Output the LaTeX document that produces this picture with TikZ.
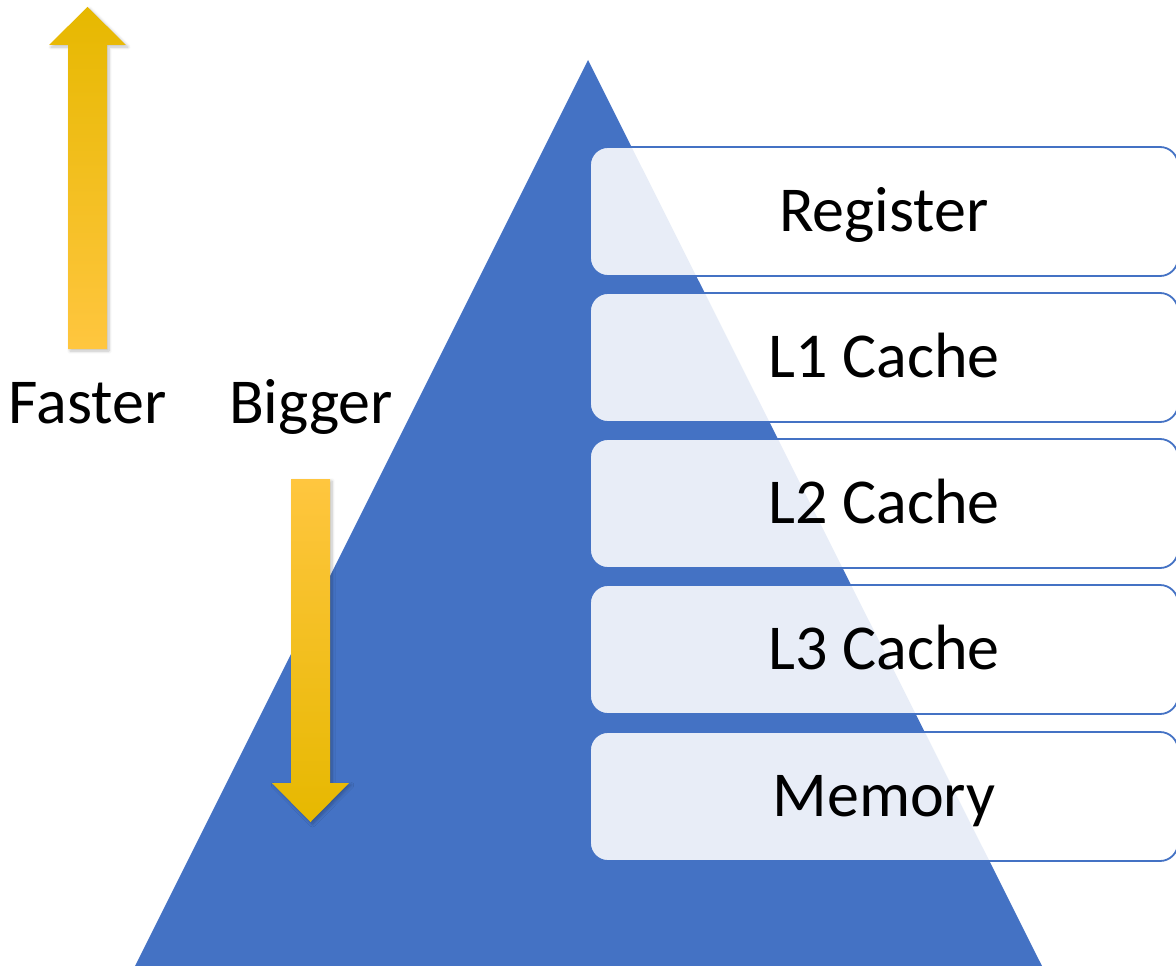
\documentclass[tikz,border=0pt]{standalone}
\usepackage{fontspec}
\setmainfont{Carlito}
\usetikzlibrary{shadows.blur}
\definecolor{pyrblue}{HTML}{4472C4}
\definecolor{golddark}{HTML}{E6B800}
\definecolor{goldmid}{HTML}{FFC800}
\definecolor{goldlight}{HTML}{FFC63F}
\begin{document}
\begin{tikzpicture}[x=1pt,y=-1pt,
  level/.style={draw=pyrblue, line width=1.8pt, fill=white, fill opacity=0.88,
    rounded corners=18pt, rectangle, inner sep=0pt, outer sep=0pt, anchor=north west,
    minimum width=588pt, minimum height=129pt},
  leveltext/.style={anchor=base, inner sep=0pt, font=\fontsize{64}{76}\selectfont},
  arrowshadow/.style={blur shadow={shadow xshift=2pt, shadow yshift=-2pt,
    shadow blur steps=6, shadow opacity=25, shadow blur radius=3pt}}
]
\useasboundingbox (0,0) rectangle (1176,966);
\clip (0,0) rectangle (1176,966);

% pyramid
\fill[pyrblue] (588,60) -- (1042,966) -- (135,966) -- cycle;

% memory levels
\node[level] (reg) at (590,147) {};
\node[level] (l1)  at (590,293) {};
\node[level] (l2)  at (590,439) {};
\node[level] (l3)  at (590,585) {};
\node[level] (mem) at (590,732) {};

\node[leveltext] (treg) at ([yshift=-20pt]reg.center) {Register};
\node[leveltext] (tl1)  at ([yshift=-20pt]l1.center) {L1 Cache};
\node[leveltext] (tl2)  at ([yshift=-20pt]l2.center) {L2 Cache};
\node[leveltext] (tl3)  at ([yshift=-20pt]l3.center) {L3 Cache};
\node[leveltext] (tmem) at ([yshift=-20pt]mem.center) {Memory};

% speed / size arrows
\path[arrowshadow, top color=golddark, middle color=goldmid, bottom color=goldlight]
  (87.5,7) -- (126,45) -- (107,45) -- (107,349) -- (68,349) -- (68,45) -- (49,45) -- cycle;
\path[arrowshadow, top color=goldlight, middle color=goldmid, bottom color=golddark]
  (291,479) -- (330,479) -- (330,783) -- (349,783) -- (310.5,822) -- (272,783) -- (291,783) -- cycle;

\node[leveltext] (faster) at (87.5,423) {Faster};
\node[leveltext] (bigger) at (311,423) {Bigger};
\end{tikzpicture}
\end{document}
